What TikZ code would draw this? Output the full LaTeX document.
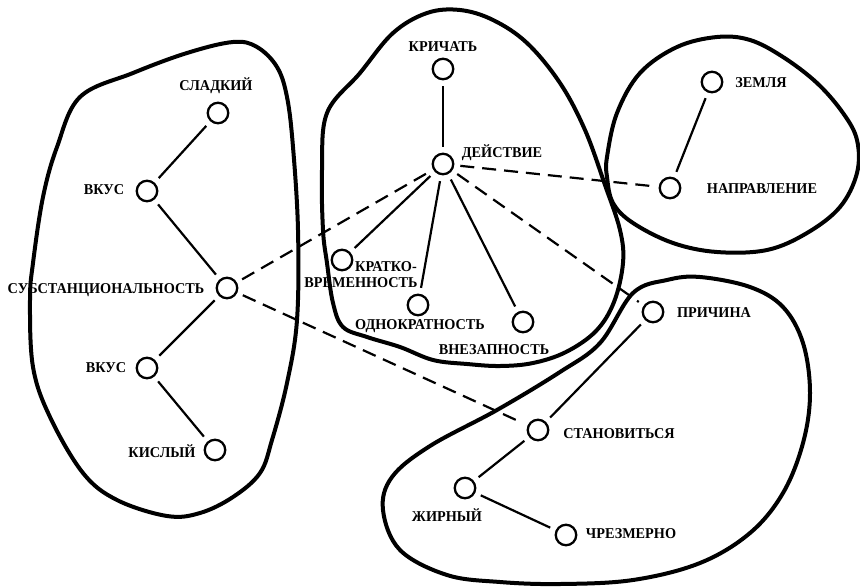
\documentclass[tikz,border=0pt]{standalone}
\usepackage{fontspec}
\setmainfont{Liberation Serif}[FakeStretch=0.95]
\begin{document}
\begin{tikzpicture}[x=1pt,y=-1pt,
  vert/.style={circle,draw,line width=2.3pt,minimum size=20.5pt,inner sep=0pt},
  lab/.style={font=\bfseries\fontsize{15}{16}\selectfont,inner sep=0pt},
  link/.style={line width=2.2pt,shorten <=6pt,shorten >=6pt},
  far/.style={link,dash pattern=on 14pt off 8pt},
  region/.style={line width=4pt,line join=round}]
\useasboundingbox (0,0) rectangle (860,587);

% regions
\draw[region] plot[smooth cycle,tension=0.6] coordinates {
  (30,300) (33,367) (50,417) (83,473) (117,500) (167,516) (200,513)
  (233,497) (260,473) (272,440) (287,383) (297,320) (298,230)
  (293,147) (287,97) (277,67) (257,47) (233,42) (187,53) (133,73)
  (80,97) (57,147) (43,197) (33,263)};
\draw[region] plot[smooth cycle,tension=0.6] coordinates {
  (327,113) (360,73) (393,33) (427,13) (460,10) (493,20) (527,43)
  (560,83) (585,130) (605,185) (620,230) (623,263) (614,302)
  (596,331) (566,352) (533,363) (500,366) (467,364) (433,360)
  (400,347) (367,337) (343,327) (333,303) (327,263) (323,230)
  (322,170)};
\draw[region] plot[smooth cycle,tension=0.6] coordinates {
  (607,157) (617,113) (640,73) (677,47) (717,37) (750,40) (783,57)
  (817,83) (843,113) (857,140) (857,173) (840,207) (807,233)
  (767,250) (717,252) (673,243) (633,223) (613,203) (607,177)};
\draw[region] plot[smooth cycle,tension=0.6] coordinates {
  (633,293) (667,280) (700,277) (750,287) (783,307) (803,343)
  (810,393) (803,443) (783,493) (750,533) (700,563) (633,580)
  (560,584) (500,582) (447,575) (400,550) (383,510) (392,477)
  (430,446) (497,410) (560,372) (600,343)};

% vertices
\node[vert] (sweet)  at (218,113) {};
\node[vert] (taste1) at (147,191) {};
\node[vert] (subst)  at (227,288) {};
\node[vert] (taste2) at (147,368) {};
\node[vert] (sour)   at (215,450) {};
\node[vert] (shout)  at (443,69)  {};
\node[vert] (act)    at (443,164) {};
\node[vert] (brief)  at (342,260) {};
\node[vert] (once)   at (418,305) {};
\node[vert] (sudden) at (523,322) {};
\node[vert] (earth)  at (712,82)  {};
\node[vert] (dir)    at (670,188) {};
\node[vert] (cause)  at (653,312) {};
\node[vert] (become) at (538,430) {};
\node[vert] (fat)    at (465,488) {};
\node[vert] (excess) at (566,535) {};

% labels
\node[lab] (l-sweet)  at (216,86)  {СЛАДКИЙ};
\node[lab] (l-taste1) at (104,190) {ВКУС};
\node[lab] (l-subst)  at (106,290) {СУБСТАНЦИОНАЛЬНОСТЬ};
\node[lab] (l-taste2) at (106,368) {ВКУС};
\node[lab] (l-sour)   at (162,451) {КИСЛЫЙ};
\node[lab] (l-shout)  at (443,47)  {КРИЧАТЬ};
\node[lab] (l-act)    at (502,153) {ДЕЙСТВИЕ};
\node[lab,anchor=west] (l-brief1) at (355,267) {КРАТКО-};
\node[lab] (l-brief2) at (361,283) {ВРЕМЕННОСТЬ};
\node[lab] (l-once)   at (420,326) {ОДНОКРАТНОСТЬ};
\node[lab] (l-sudden) at (494,350) {ВНЕЗАПНОСТЬ};
\node[lab] (l-earth)  at (761,83)  {ЗЕМЛЯ};
\node[lab] (l-dir)    at (762,189) {НАПРАВЛЕНИЕ};
\node[lab] (l-cause)  at (714,313) {ПРИЧИНА};
\node[lab] (l-become) at (619,434) {СТАНОВИТЬСЯ};
\node[lab] (l-fat)    at (447,515) {ЖИРНЫЙ};
\node[lab] (l-excess) at (631,534) {ЧРЕЗМЕРНО};

% solid links
\draw[link] (sweet) -- (taste1);
\draw[link] (taste1) -- (subst);
\draw[link] (subst) -- (taste2);
\draw[link] (taste2) -- (sour);
\draw[link] (shout) -- (act);
\draw[link] (act) -- (brief);
\draw[link] (act) -- (once);
\draw[link] (act) -- (sudden);
\draw[link] (earth) -- (dir);
\draw[link] (cause) -- (become);
\draw[link] (become) -- (fat);
\draw[link] (fat) -- (excess);

% dashed links
\draw[far] (subst) -- (act);
\draw[far] (subst) -- (become);
\draw[far] (act) -- (dir);
\draw[far] (act) -- (cause);
\end{tikzpicture}
\end{document}
